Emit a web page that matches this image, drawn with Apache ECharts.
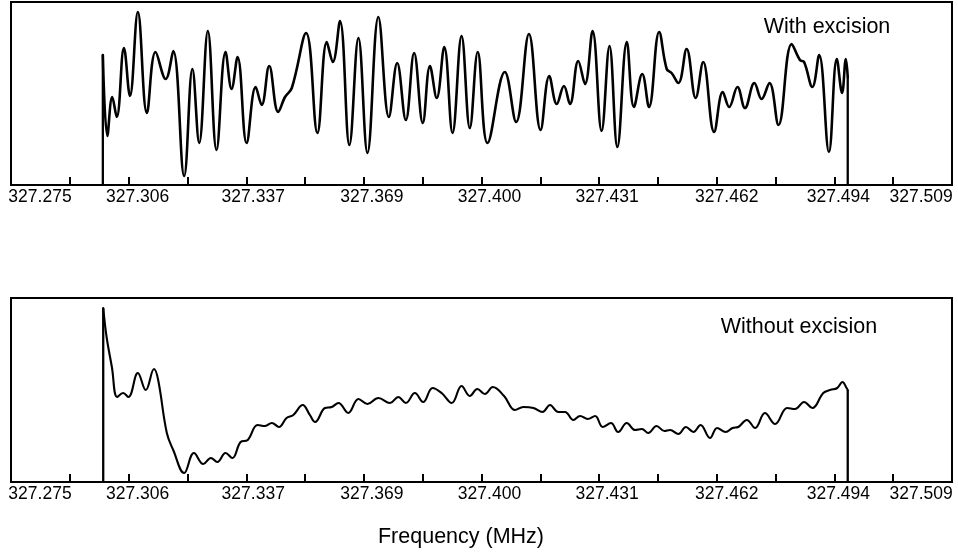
<!DOCTYPE html>
<html>
<head>
<meta charset="utf-8">
<script src="https://cdn.jsdelivr.net/npm/echarts@6/dist/echarts.min.js"></script>
<style>
html,body{margin:0;padding:0;background:#fff;}
#chart{width:958px;height:554px;}
</style>
</head>
<body>
<div id="chart"></div>
<script>
// ---- data (frequency in MHz, power in arbitrary units) ----
const freqTop = [327.2994,327.3006,327.3019,327.3031,327.3050,327.3066,327.3087,327.3111,327.3134,327.3161,327.3181,327.3210,327.3232,327.3250,327.3273,327.3296,327.3320,327.3336,327.3352,327.3376,327.3400,327.3416,327.3436,327.3460,327.3478,327.3496,327.3534,327.3564,327.3589,327.3605,327.3624,327.3649,327.3673,327.3697,327.3726,327.3754,327.3776,327.3799,327.3821,327.3844,327.3863,327.3881,327.3901,327.3923,327.3947,327.3969,327.3990,327.4016,327.4062,327.4092,327.4126,327.4157,327.4180,327.4200,327.4219,327.4235,327.4257,327.4275,327.4295,327.4319,327.4340,327.4361,327.4386,327.4405,327.4427,327.4445,327.4472,327.4492,327.4505,327.4523,327.4545,327.4569,327.4589,327.4618,327.4641,327.4658,327.4680,327.4700,327.4725,327.4744,327.4765,327.4789,327.4824,327.4846,327.4857,327.4879,327.4897,327.4923,327.4944,327.4958,327.4968,327.4973];
const powerTop = [130,49,88,68,137,89,173,72,133,106,134,9,116,42,154,35,133,96,128,42,98,80,119,73,88,97,152,52,143,123,164,40,147,32,168,68,122,65,132,62,119,87,138,52,149,57,133,42,113,63,151,55,109,81,99,81,124,101,154,54,139,38,143,78,111,78,153,116,112,102,136,87,123,53,93,78,98,77,102,86,102,60,141,125,123,98,130,33,126,92,126,108];

const freqBottom = [327.2995,327.3004,327.3018,327.3032,327.3048,327.3062,327.3087,327.3108,327.3130,327.3141,327.3164,327.3181,327.3210,327.3236,327.3261,327.3281,327.3298,327.3320,327.3338,327.3360,327.3379,327.3405,327.3425,327.3443,327.3462,327.3482,327.3500,327.3525,327.3544,327.3558,327.3584,327.3602,327.3620,327.3646,327.3673,327.3697,327.3726,327.3757,327.3779,327.3799,327.3823,327.3845,327.3870,327.3894,327.3921,327.3947,327.3969,327.3989,327.4009,327.4030,327.4060,327.4089,327.4111,327.4138,327.4162,327.4182,327.4204,327.4222,327.4244,327.4262,327.4282,327.4302,327.4322,327.4344,327.4363,327.4386,327.4408,327.4426,327.4443,327.4465,327.4486,327.4501,327.4523,327.4543,327.4563,327.4582,327.4607,327.4626,327.4649,327.4667,327.4682,327.4705,327.4727,327.4753,327.4780,327.4812,327.4833,327.4857,327.4879,327.4908,327.4926,327.4945,327.4959,327.4970,327.4973];
const powerBottom = [174,145,115,85,89,85,109,92,113,102,49,32,9,29,18,24,20,29,24,40,42,57,56,59,55,64,67,77,67,60,74,75,79,69,83,78,84,79,85,79,89,80,94,89,79,96,86,93,88,95,86,72,75,74,70,77,70,70,62,66,63,66,55,59,50,59,52,53,49,56,51,52,48,55,50,57,44,54,50,54,55,62,54,69,58,74,73,80,74,89,92,94,100,94,92];

const tickLabels = ['327.275','327.306','327.337','327.369','327.400','327.431','327.462','327.494','327.509'];
const labelTickIndex = [0,2,4,6,8,10,12,14,15];
const axisMin = 327.275;
const tickStep = 0.015625;
const tickCount = 16;
const panelTitles = ['With excision','Without excision'];
const axisTitle = 'Frequency (MHz)';

// ---- layout / style ----
const gridW = 941;
const axisMax = axisMin + tickCount * tickStep;
const pxPerUnit = gridW / (axisMax - axisMin);
const labelShiftPx = [29, 9, 7, 8, 8, 8, 10, 4, 28];
const tickValues = [];
for (let k = 1; k < tickCount; k++) tickValues.push(axisMin + k * tickStep);
const labelValues = labelTickIndex.map((t, i) => axisMin + t * tickStep + labelShiftPx[i] / pxPerUnit);

function labelFor(v) {
  let best = 0, bd = Infinity;
  labelValues.forEach((lv, i) => { const d = Math.abs(lv - v); if (d < bd) { bd = d; best = i; } });
  return tickLabels[best];
}

const FONT = '"Liberation Sans", Arial, Helvetica, sans-serif';

function makeX(gi) {
  return {
    type: 'value', gridIndex: gi, min: axisMin, max: axisMax,
    axisLine: { show: true, onZero: false, lineStyle: { color: '#000', width: 2 } },
    axisTick: { show: true, inside: true, length: 8, customValues: tickValues, lineStyle: { color: '#000', width: 2 } },
    axisLabel: { show: true, customValues: labelValues, formatter: labelFor, color: '#000', fontSize: 17.5, fontFamily: FONT, margin: 3 },
    splitLine: { show: false }
  };
}
function makeY(gi, max) {
  return {
    type: 'value', gridIndex: gi, min: 0, max: max,
    axisLine: { show: false }, axisTick: { show: false }, axisLabel: { show: false }, splitLine: { show: false }
  };
}

function curve(gi, fx, py, width, smooth) {
  return {
    type: 'line', xAxisIndex: gi, yAxisIndex: gi, symbol: 'none', smooth: smooth,
    lineStyle: { color: '#000', width: width, join: 'round', cap: 'round' }, data: fx.map((f, i) => [f, py[i]]), z: 3
  };
}
function edge(gi, f, p, width) {
  return {
    type: 'line', xAxisIndex: gi, yAxisIndex: gi, symbol: 'none',
    lineStyle: { color: '#000', width: width }, data: [[f, 0], [f, p]], z: 3
  };
}

const n1 = freqTop.length - 1, n2 = freqBottom.length - 1;

const option = {
  animation: false,
  backgroundColor: '#fff',
  grid: [
    { left: 11, top: 2, width: gridW, height: 183, show: true, borderColor: '#000', borderWidth: 2, backgroundColor: 'transparent' },
    { left: 11, top: 298, width: gridW, height: 184, show: true, borderColor: '#000', borderWidth: 2, backgroundColor: 'transparent' }
  ],
  xAxis: [makeX(0), makeX(1)],
  yAxis: [makeY(0, 183), makeY(1, 184)],
  series: [
    curve(0, freqTop, powerTop, 2.6, 0.4),
    edge(0, freqTop[0], powerTop[0], 2.3),
    edge(0, freqTop[n1], powerTop[n1], 2.3),
    curve(1, freqBottom, powerBottom, 2.1, 0.4),
    edge(1, freqBottom[0], powerBottom[0], 2.3),
    edge(1, freqBottom[n2], powerBottom[n2], 2.3)
  ],
  graphic: [
    { type: 'text', x: 827, y: 27, style: { text: panelTitles[0], fill: '#000', font: '21.5px ' + FONT, textAlign: 'center', textVerticalAlign: 'middle' } },
    { type: 'text', x: 799, y: 327, style: { text: panelTitles[1], fill: '#000', font: '21.5px ' + FONT, textAlign: 'center', textVerticalAlign: 'middle' } },
    { type: 'text', x: 461, y: 537, style: { text: axisTitle, fill: '#000', font: '21.5px ' + FONT, textAlign: 'center', textVerticalAlign: 'middle' } }
  ]
};

const chart = echarts.init(document.getElementById('chart'), null, { renderer: 'canvas' });
chart.setOption(option);
</script>
</body>
</html>
